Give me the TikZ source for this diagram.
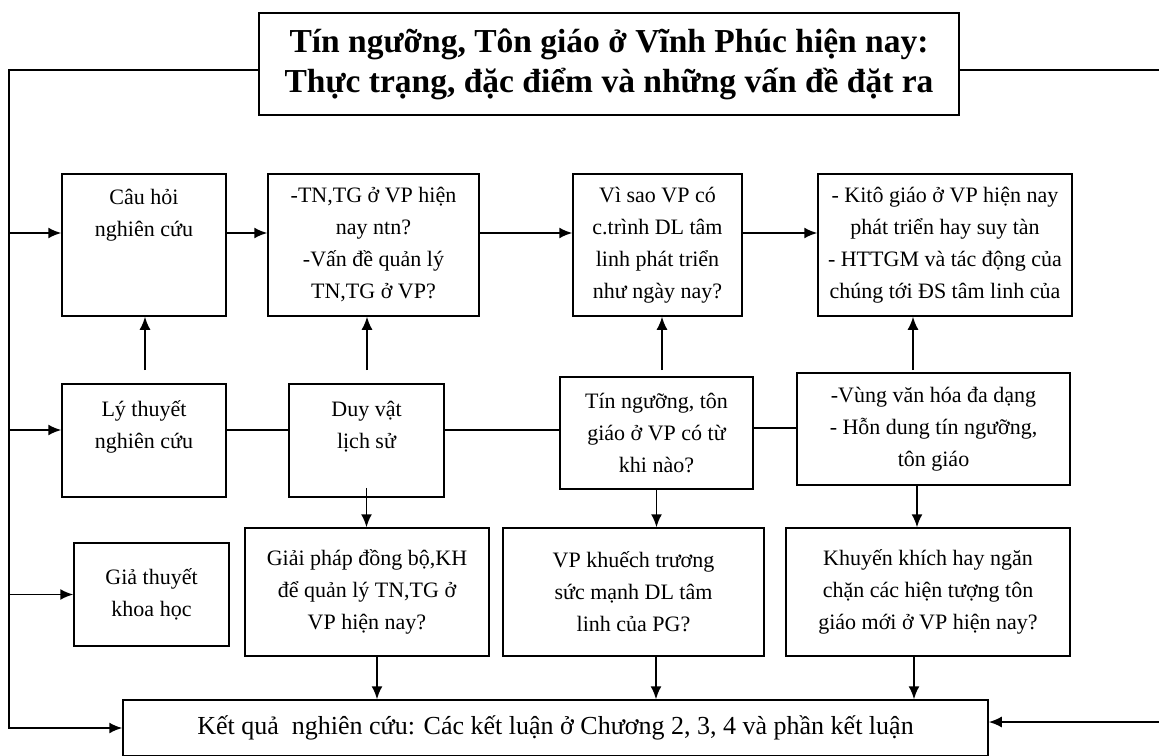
\documentclass[tikz,border=0pt]{standalone}
\usepackage{fontspec}
\setmainfont{Liberation Serif}
\usetikzlibrary{arrows.meta}

\tikzset{
  box/.style={draw, rectangle, line width=1.5pt, inner sep=0pt, align=center,
              font=\fontsize{22}{32}\selectfont},
  headbox/.style={box, font=\fontsize{33.5}{40}\selectfont\bfseries},
  endbox/.style={box, font=\fontsize{26}{30}\selectfont},
  conn/.style={line width=1.8pt},
}

\begin{document}
\begin{tikzpicture}[x=1pt,y=-1pt,>={Latex[length=13pt,width=11pt]}]
  \clip (0,0) rectangle (1159,755);

  \node[headbox, minimum width=700pt, minimum height=102pt] (title) at (609,64)
       {Tín ngưỡng, Tôn giáo ở Vĩnh Phúc hiện nay:\\Thực trạng, đặc điểm và những vấn đề đặt ra};

  % questions
  \node[box, minimum width=164pt, minimum height=142pt] (ask)  at (144,245)   {Câu hỏi\\nghiên cứu\\~\\~};
  \node[box, minimum width=211pt, minimum height=142pt] (q1)   at (373.5,245) {-TN,TG ở VP hiện\\nay ntn?\\-Vấn đề quản lý\\TN,TG ở VP?};
  \node[box, minimum width=169pt, minimum height=142pt] (q2)   at (657.5,245) {Vì sao VP có\\c.trình DL tâm\\linh phát triển\\như ngày nay?};
  \node[box, minimum width=254pt, minimum height=142pt] (q3)   at (945,245)   {- Kitô giáo ở VP hiện nay\\phát triển hay suy tàn\\- HTTGM và tác động của\\chúng tới ĐS tâm linh của};

  % theory
  \node[box, minimum width=164pt, minimum height=113pt] (theory)  at (144,440.5)   {Lý thuyết\\nghiên cứu\\~};
  \node[box, minimum width=155pt, minimum height=113pt] (hist)    at (366.5,440.5) {Duy vật\\lịch sử\\~};
  \node[box, minimum width=193pt, minimum height=112pt] (origin)  at (656.5,433)   {Tín ngưỡng, tôn\\giáo ở VP có từ\\khi nào?};
  \node[box, minimum width=273pt, minimum height=112pt] (culture) at (933.5,429)   {-Vùng văn hóa đa dạng\\- Hỗn dung tín ngưỡng,\\tôn giáo};

  % hypotheses
  \node[box, minimum width=155pt, minimum height=103pt] (hypo) at (151.5,594.5) {Giả thuyết\\khoa học};
  \node[box, minimum width=244pt, minimum height=128pt] (sol1) at (367,592)     {Giải pháp đồng bộ,KH\\để quản lý TN,TG ở\\VP hiện nay?};
  \node[box, minimum width=261pt, minimum height=128pt] (sol2) at (633.5,592)   {VP khuếch trương\\sức mạnh DL tâm\\linh của PG?};
  \node[box, minimum width=284pt, minimum height=128pt] (sol3) at (928,592)     {Khuyến khích hay ngăn\\chặn các hiện tượng tôn\\giáo mới ở VP hiện nay?};

  \node[endbox, minimum width=865pt, minimum height=56pt] (result) at (555.5,728)
       {Kết quả\ \ nghiên cứu: Các kết luận ở Chương 2, 3, 4 và phần kết luận};

  % frame lines
  \coordinate (ltop) at (9,70);
  \coordinate (lbot) at (9,728);
  \coordinate (rtop) at (1159,70);
  \coordinate (rbot) at (1159,722);
  \draw[conn,->] (title.west |- ltop) -- (ltop) -- (lbot) -- (result.west |- lbot);
  \draw[conn] (title.east |- rtop) -- (rtop);
  \draw[conn,->] (rbot) -- (result.east |- rbot);

  \draw[conn,->] ([yshift=12pt]ask.west -| ltop) -- ([yshift=12pt]ask.west);
  \draw[conn,->] ([yshift=10.5pt]theory.west -| ltop) -- ([yshift=10.5pt]theory.west);
  \draw[conn,->] (hypo.west -| ltop) -- (hypo.west);

  % first row
  \draw[conn,->] ([yshift=12pt]ask.east) -- ([yshift=12pt]q1.west);
  \draw[conn,->] ([yshift=12pt]q1.east)  -- ([yshift=12pt]q2.west);
  \draw[conn,->] ([yshift=12pt]q2.east)  -- ([yshift=12pt]q3.west);

  \coordinate (up1) at (145,370);
  \coordinate (up2) at (367,370);
  \coordinate (up3) at (662,370);
  \coordinate (up4) at (913,370);
  \draw[conn,->] (up1) -- (up1 |- ask.south);
  \draw[conn,->] (up2) -- (up2 |- q1.south);
  \draw[conn,->] (up3) -- (up3 |- q2.south);
  \draw[conn,->] (up4) -- (up4 |- q3.south);

  % second row
  \draw[conn] ([yshift=10.5pt]theory.east) -- ([yshift=10.5pt]theory.east -| hist.west);
  \draw[conn] ([yshift=10.5pt]hist.east)   -- ([yshift=10.5pt]hist.east -| origin.west);
  \draw[conn] ([yshift=5pt]origin.east)    -- ([yshift=5pt]origin.east -| culture.west);

  \draw[conn,->] ([yshift=10pt]hist.south) -- (hist.south |- sol1.north);
  \draw[conn,->] (origin.south) -- (origin.south |- sol2.north);
  \draw[conn,->] ([xshift=-16.5pt]culture.south) -- ([xshift=-16.5pt]culture.south |- sol3.north);

  % to results
  \draw[conn,->] ([xshift=10pt]sol1.south)   -- ([xshift=10pt]sol1.south |- result.north);
  \draw[conn,->] ([xshift=22.5pt]sol2.south) -- ([xshift=22.5pt]sol2.south |- result.north);
  \draw[conn,->] ([xshift=-14pt]sol3.south)  -- ([xshift=-14pt]sol3.south |- result.north);
\end{tikzpicture}
\end{document}
